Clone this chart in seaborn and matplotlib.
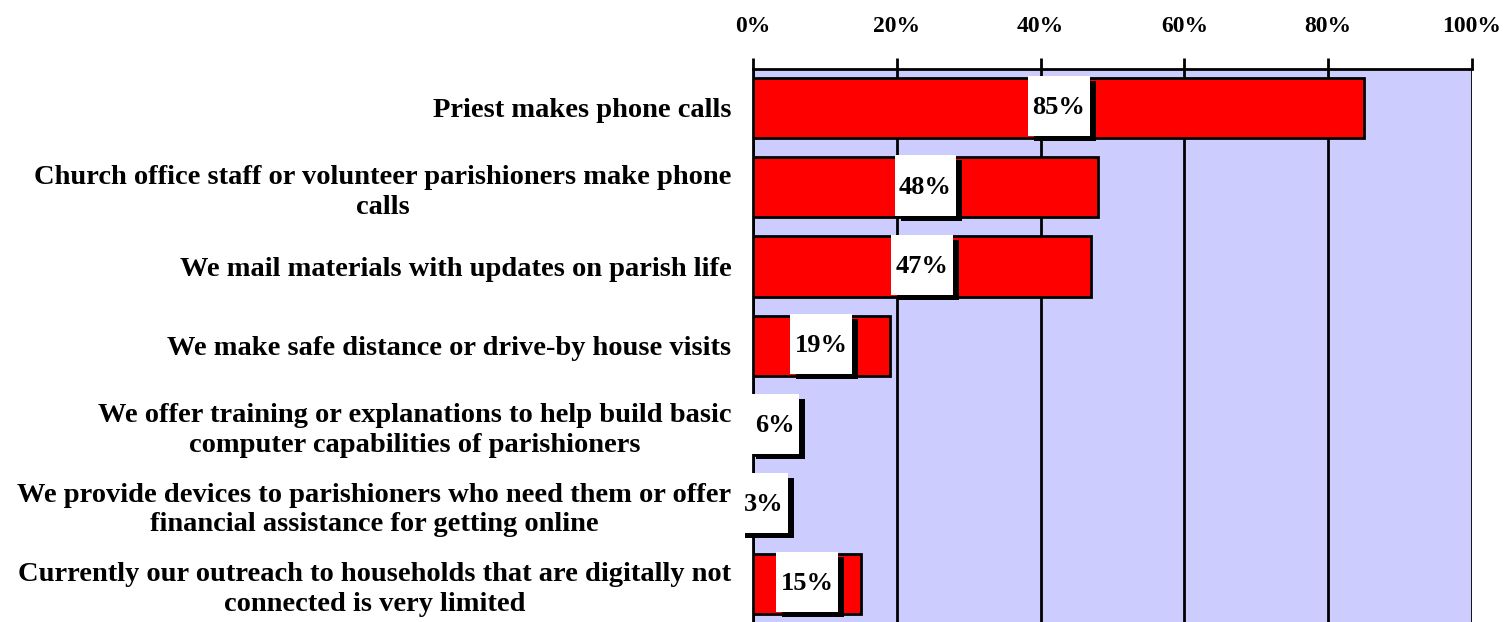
import numpy as np
import pandas as pd
import seaborn as sns
import matplotlib.pyplot as plt
from matplotlib.patches import Rectangle

categories = [
    'Priest makes phone calls',
    'Church office staff or volunteer parishioners make phone\ncalls',
    'We mail materials with updates on parish life',
    'We make safe distance or drive-by house visits',
    'We offer training or explanations to help build basic\ncomputer capabilities of parishioners',
    'We provide devices to parishioners who need them or offer\nfinancial assistance for getting online',
    'Currently our outreach to households that are digitally not\nconnected is very limited',
]
values = [85, 48, 47, 19, 6, 3, 15]
xticks = [0, 20, 40, 60, 80, 100]
xticklabels = ['0%', '20%', '40%', '60%', '80%', '100%']

df = pd.DataFrame({'Method': categories, 'Pct': values})

sns.set_style('white', {'axes.facecolor': '#CCCCFF'})
plt.rcParams['font.family'] = ['Liberation Serif', 'DejaVu Serif']
plt.rcParams['font.weight'] = 'bold'
plt.rcParams['text.color'] = 'black'
plt.rcParams['xtick.color'] = 'black'
plt.rcParams['ytick.color'] = 'black'

fig = plt.figure(figsize=(15.09, 6.22), dpi=100)
ax = fig.add_axes([753 / 1509, 0, (1472 - 753) / 1509, (622 - 69) / 622])

bar_h = 0.76
sns.barplot(data=df, x='Pct', y='Method', orient='h', color='red', saturation=1,
            edgecolor='black', linewidth=2, width=bar_h, ax=ax, zorder=3)

ax.set_xlim(0, 100)
ax.set_ylim(6.48, -0.49)
ax.set_xlabel('')
ax.set_ylabel('')

# axis on top
ax.xaxis.tick_top()
ax.set_xticks(xticks)
ax.set_xticklabels(xticklabels, fontsize=17, fontweight='bold')
ax.tick_params(axis='x', length=8, width=2, color='black', pad=15, direction='out')
ax.tick_params(axis='y', length=0, pad=15.5)
for lab in ax.get_yticklabels():
    lab.set_fontsize(20.5)
    lab.set_fontweight('bold')
    lab.set_multialignment('center')
    lab.set_linespacing(1.25)

ax.grid(axis='x', color='black', linewidth=2, zorder=1)
ax.set_axisbelow(True)
for side in ['top', 'left']:
    ax.spines[side].set_color('black')
    ax.spines[side].set_linewidth(2)
ax.spines['right'].set_visible(False)
ax.spines['bottom'].set_visible(False)

# value labels in white boxes with a black drop shadow
texts = []
for i, v in enumerate(values):
    t = ax.text(v / 2, i, f'{v}%', ha='center', va='center', fontsize=19,
                fontweight='bold', color='black', zorder=6)
    texts.append(t)

fig.canvas.draw()
renderer = fig.canvas.get_renderer()
inv = ax.transData.inverted()
dx = inv.transform((6, 0))[0] - inv.transform((0, 0))[0]
dy = inv.transform((0, 0))[1] - inv.transform((0, 5))[1]
for i, t in enumerate(texts):
    bb = t.get_window_extent(renderer)
    x0, _ = inv.transform((bb.x0 - 4.5, 0))
    x1, _ = inv.transform((bb.x1 + 4.5, 0))
    y_top = i - bar_h / 2 - 0.02
    # shadow: shift 6 px right and 5 px down
    ax.add_patch(Rectangle((x0 + dx, y_top + dy), x1 - x0, bar_h, facecolor='black',
                           edgecolor='none', zorder=4, clip_on=False))
    ax.add_patch(Rectangle((x0, y_top), x1 - x0, bar_h, facecolor='white',
                           edgecolor='none', zorder=5, clip_on=False))

fig.savefig('out.png', dpi=100)
